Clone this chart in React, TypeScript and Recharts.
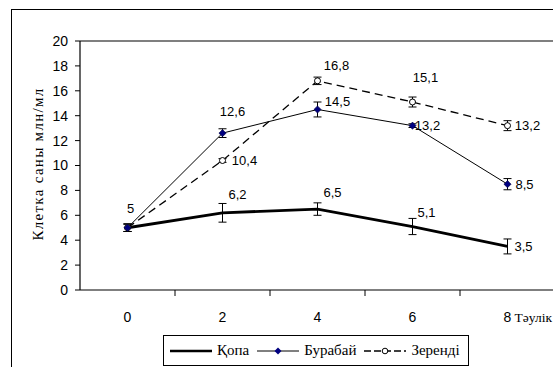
import React from 'react';
import { LineChart, Line, XAxis, YAxis, ErrorBar, LabelList, ReferenceLine } from 'recharts';

const days = [0, 2, 4, 6, 8];
const kopa = [5, 6.2, 6.5, 5.1, 3.5];
const kopaErr = [0.3, 0.75, 0.5, 0.65, 0.6];
const burabay = [5, 12.6, 14.5, 13.2, 8.5];
const burabayErr = [0.3, 0.35, 0.6, 0.15, 0.45];
const zerendi = [5, 10.4, 16.8, 15.1, 13.2];
const zerendiErr = [0.3, 0.15, 0.3, 0.4, 0.4];
const yTicks = [0, 2, 4, 6, 8, 10, 12, 14, 16, 18, 20];
const xTicks = [0, 1, 2, 3, 4, 5, 6, 7, 8];
const seriesNames = ['Қопа', 'Бурабай', 'Зеренді'];
const yTitle = 'Клетка саны млн/мл';
const xTitle = 'Тәулік';

// label placement offsets (dx, dy) per point; null = no label
const kopaLabelPos: ([number, number] | null)[] = [[3, -19], [15, -18], [15, -17], [14, -14], [16, 0]];
const burabayLabelPos: ([number, number] | null)[] = [null, [10, -22], [20, -8], [15, 0], [17, 0]];
const zerendiLabelPos: ([number, number] | null)[] = [null, [22, 0], [19, -15], [13, -25], [20, 0]];

const data = days.map((d, i) => ({
  day: d,
  kopa: kopa[i],
  kopaErr: kopaErr[i],
  burabay: burabay[i],
  burabayErr: burabayErr[i],
  zerendi: zerendi[i],
  zerendiErr: zerendiErr[i],
}));

const SANS = '"Liberation Sans", Arial, sans-serif';
const SERIF = '"Liberation Serif", "Times New Roman", serif';

const fmt = (v: number) => String(v).replace('.', ',');

const makeLabel = (pos: ([number, number] | null)[]) => (props: any) => {
  const { x, y, value, index } = props;
  const p = pos[index];
  if (!p || x == null || y == null) return null;
  return (
    <text
      x={x + p[0]}
      y={y + p[1]}
      textAnchor="middle"
      dominantBaseline="central"
      fontFamily={SANS}
      fontSize={13}
      fill="#000"
    >
      {fmt(value)}
    </text>
  );
};

const DiamondDot = (props: any) => {
  const { cx, cy } = props;
  if (cx == null || cy == null) return null;
  const s = 3.6;
  return (
    <polygon
      points={`${cx},${cy - s} ${cx + s},${cy} ${cx},${cy + s} ${cx - s},${cy}`}
      fill="#000080"
      stroke="#000040"
      strokeWidth={0.6}
    />
  );
};

const CircleDot = (props: any) => {
  const { cx, cy } = props;
  if (cx == null || cy == null) return null;
  return <circle cx={cx} cy={cy} r={3} fill="#fff" stroke="#000" strokeWidth={1} />;
};

const XTick = (props: any) => {
  const { x, y, payload } = props;
  const v = payload.value;
  if (v % 2 !== 0) {
    return <line x1={x} y1={y} x2={x} y2={y + 6} stroke="#000" strokeWidth={1} />;
  }
  return (
    <text x={x} y={y + 32} textAnchor="middle" fontFamily={SANS} fontSize={14} fill="#000">
      {v}
    </text>
  );
};

const LegendItem = ({ kind, name }: { kind: number; name: string }) => (
  <div style={{ display: 'flex', alignItems: 'center', marginRight: 6 }}>
    <svg width={46} height={12}>
      {kind === 0 && <line x1={2} y1={6} x2={44} y2={6} stroke="#000" strokeWidth={2.5} />}
      {kind === 1 && (
        <>
          <line x1={2} y1={6} x2={44} y2={6} stroke="#000" strokeWidth={1} />
          <polygon points="23,2.5 26.5,6 23,9.5 19.5,6" fill="#000080" />
        </>
      )}
      {kind === 2 && (
        <>
          <line x1={2} y1={6} x2={44} y2={6} stroke="#000" strokeWidth={1.5} strokeDasharray="7 3" />
          <circle cx={23} cy={6} r={2.8} fill="#fff" stroke="#000" strokeWidth={1} />
        </>
      )}
    </svg>
    <span style={{ fontFamily: SERIF, fontSize: 15, marginLeft: 3, color: '#000' }}>{name}</span>
  </div>
);

export default function App() {
  return (
    <div style={{ position: 'absolute', left: 0, top: 0, width: 553, height: 367, overflow: 'hidden', background: '#fff' }}>
      <div style={{ position: 'absolute', left: 11, top: 9, width: 620, height: 420, border: '1.5px solid #000' }} />
      <div style={{ position: 'absolute', left: 0, top: 0 }}>
        <LineChart width={560} height={380} data={data} margin={{ top: 41, right: 5, bottom: 60, left: 0 }}>
          <XAxis
            dataKey="day"
            type="number"
            domain={[-1, 9]}
            ticks={xTicks}
            interval={0}
            tickLine={false}
            tickSize={0}
            tickMargin={0}
            height={30}
            axisLine={{ stroke: '#000', strokeWidth: 1.2 }}
            tick={<XTick />}
            label={(p: any) => {
              const vb = p.viewBox;
              return (
                <text x={vb.x + vb.width - 40.5} y={vb.y + 32} fontFamily={SERIF} fontSize={13.5} fill="#000">
                  {xTitle}
                </text>
              );
            }}
          />
          <YAxis
            type="number"
            domain={[0, 20]}
            ticks={yTicks}
            interval={0}
            width={80}
            tickSize={5}
            tickMargin={7}
            axisLine={{ stroke: '#000', strokeWidth: 1.2 }}
            tickLine={{ stroke: '#000' }}
            tick={{ fontFamily: SANS, fontSize: 14, fill: '#000' }}
            label={() => {
              const cx = 38;
              const cy = 164;
              return (
                <text
                  x={cx}
                  y={cy}
                  transform={`rotate(-90 ${cx} ${cy})`}
                  textAnchor="middle"
                  dominantBaseline="central"
                  fontFamily={SERIF}
                  fontSize={15}
                  letterSpacing={1.3}
                  fill="#000"
                >
                  {yTitle}
                </text>
              );
            }}
          />
          <ReferenceLine y={20} stroke="#000" strokeWidth={1.2} ifOverflow="visible" />
          <Line
            dataKey="zerendi"
            name={seriesNames[2]}
            stroke="#000"
            strokeWidth={1.3}
            strokeDasharray="8 5"
            dot={<CircleDot />}
            isAnimationActive={false}
          >
            <ErrorBar dataKey="zerendiErr" width={4} stroke="#000" strokeWidth={1} direction="y" />
            <LabelList dataKey="zerendi" content={makeLabel(zerendiLabelPos)} />
          </Line>
          <Line
            dataKey="burabay"
            name={seriesNames[1]}
            stroke="#000"
            strokeWidth={1}
            dot={<DiamondDot />}
            isAnimationActive={false}
          >
            <ErrorBar dataKey="burabayErr" width={4} stroke="#000" strokeWidth={1} direction="y" />
            <LabelList dataKey="burabay" content={makeLabel(burabayLabelPos)} />
          </Line>
          <Line
            dataKey="kopa"
            name={seriesNames[0]}
            stroke="#000"
            strokeWidth={2.8}
            dot={false}
            isAnimationActive={false}
          >
            <ErrorBar dataKey="kopaErr" width={4} stroke="#000" strokeWidth={1} direction="y" />
            <LabelList dataKey="kopa" content={makeLabel(kopaLabelPos)} />
          </Line>
        </LineChart>
      </div>
      <div
        style={{
          position: 'absolute',
          left: 163,
          top: 335,
          width: 306,
          height: 31,
          border: '1px solid #000',
          boxSizing: 'border-box',
          background: '#fff',
          display: 'flex',
          alignItems: 'center',
          paddingLeft: 4,
        }}
      >
        {seriesNames.map((n, i) => (
          <LegendItem key={n} kind={i} name={n} />
        ))}
      </div>
    </div>
  );
}
